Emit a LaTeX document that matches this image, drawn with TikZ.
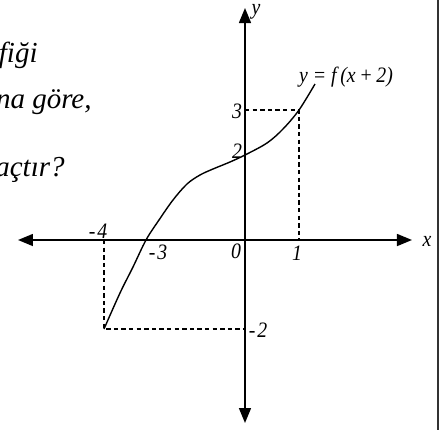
\documentclass[tikz,border=0pt]{standalone}
\usepackage{fontspec}
\setmainfont{Liberation Serif}
\newfontfamily\lblfont[FakeStretch=0.9]{Liberation Serif}
\usetikzlibrary{arrows.meta}
\begin{document}
\begin{tikzpicture}[x=0.5pt,y=-0.5pt,
  axis/.style={line width=0.75pt,-{Triangle[length=7.5pt,width=6pt]}},
  guide/.style={line width=0.55pt,dash pattern=on 2.2pt off 1.6pt},
  lbl/.style={font=\lblfont\fontsize{11}{13}\selectfont\itshape,inner sep=0pt},
  txt/.style={font=\fontsize{14.5}{16}\selectfont\itshape,inner sep=0pt,anchor=base east}]
\useasboundingbox (0,0) rectangle (447,430);
\clip (0,0) rectangle (447,430);
% frame line
\draw[line width=1.3pt,color=black!80] (438,-5) -- (438,435);
% axes
\coordinate (O) at (245,240);
\coordinate (xl) at (18,240);
\coordinate (xr) at (412,240);
\coordinate (yt) at (245,8);
\coordinate (yb) at (245,423);
\draw[axis] (O) -- (xl);
\draw[axis] (O) -- (xr);
\draw[axis] (O) -- (yt);
\draw[axis] (O) -- (yb);
% guide points
\coordinate (P3) at (299,110);
\coordinate (Y3) at (245,110);
\coordinate (X1) at (299,240);
\coordinate (Pm) at (104,329);
\coordinate (Xm4) at (104,240);
\coordinate (Ym2) at (245,329);
\draw[guide] (Y3) -- (P3) -- (X1);
\draw[guide] (Xm4) -- (Pm) -- (Ym2);
% curve
\draw[line width=0.7pt] plot[smooth,tension=0.55] coordinates
 {(104,329) (120,293) (133,267) (146,240) (159,220) (173,200) (187,184) (200,175) (213,169) (230,162) (245,155) (267,143) (283,129) (299,110) (315,84)};
% labels
\node[lbl] (ly) at (256,12) {y};
\node[lbl] (lx) at (427,241) {x};
\node[lbl] (l3) at (237,111) {3};
\node[lbl] (l2) at (237,151) {2};
\node[lbl] (lf) at (346,77) {y = f\,(x\,+\,2)};
\node[lbl] (lm4) at (98,231) {-\kern1pt4};
\node[lbl] (lm3) at (158,252) {-\kern1pt3};
\node[lbl] (l0) at (236,251) {0};
\node[lbl] (l1) at (297,253) {1};
\node[lbl] (lm2) at (258,330) {-\kern1pt2};
% question text fragments
\node[txt] (t1) at (38,62) {fiği};
\node[txt] (t2) at (92,108) {na göre,};
\node[txt] (t3) at (65,176) {açtır?};
\end{tikzpicture}
\end{document}
